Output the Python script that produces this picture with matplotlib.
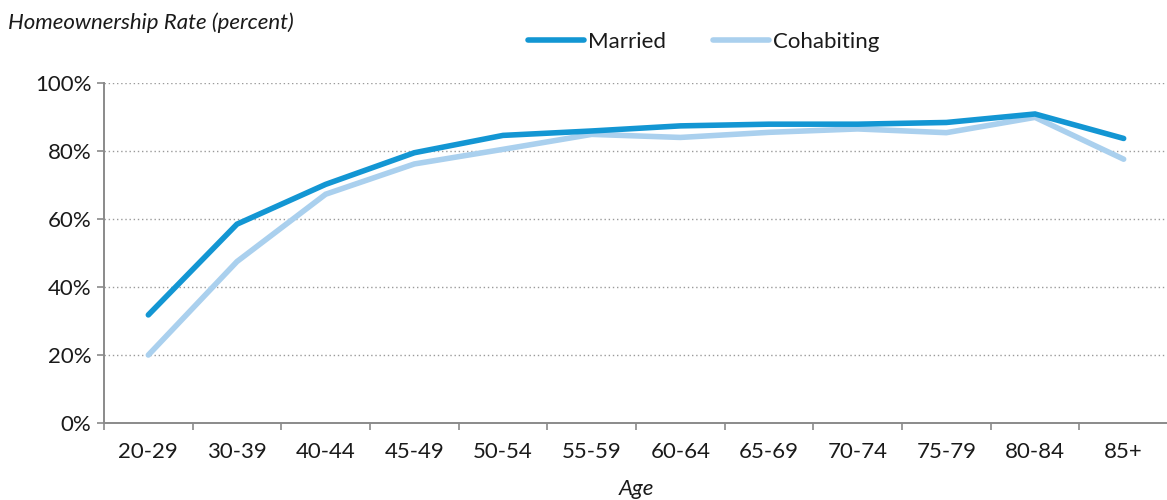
import matplotlib
matplotlib.use("Agg")
import matplotlib.pyplot as plt
from matplotlib.ticker import FixedLocator, PercentFormatter

categories = ["20-29", "30-39", "40-44", "45-49", "50-54", "55-59", "60-64",
              "65-69", "70-74", "75-79", "80-84", "85+"]
married = [31.7, 58.4, 70.1, 79.4, 84.5, 85.8, 87.3, 87.8, 87.8, 88.3, 90.8, 83.6]
cohabiting = [19.9, 47.4, 67.2, 76.1, 80.4, 84.8, 83.9, 85.4, 86.4, 85.3, 89.8, 77.5]

plt.rcParams['font.family'] = ['Lato', 'DejaVu Sans']

fig = plt.figure(figsize=(11.67, 5.0), dpi=100)
ax = fig.add_axes([104/1167, 1-422.7/500, (1168-104)/1167, (422.7-82.7)/500])

x = list(range(len(categories)))
c_m = "#1396d3"
c_c = "#aad0ee"
ax.plot(x, married, color=c_m, lw=4.0, solid_capstyle='round', solid_joinstyle='miter', label="Married", zorder=3)
ax.plot(x, cohabiting, color=c_c, lw=4.0, solid_capstyle='round', solid_joinstyle='miter', label="Cohabiting", zorder=2)

ax.set_xlim(-0.5, len(categories) - 0.5)
ax.set_ylim(0, 100)
ax.set_yticks([0, 20, 40, 60, 80, 100])
ax.yaxis.set_major_formatter(PercentFormatter(decimals=0))
ax.set_xticks(x)
ax.set_xticklabels(categories)
ax.xaxis.set_minor_locator(FixedLocator([i - 0.5 for i in range(len(categories) + 1)]))
ax.tick_params(axis='x', which='major', length=0, pad=14, labelsize=16, labelcolor='#1a1a1a')
ax.tick_params(axis='x', which='minor', length=5, width=1.2, color='#8a8a8a', direction='out')
ax.tick_params(axis='y', length=5, width=1.2, color='#8a8a8a', labelsize=16, labelcolor='#1a1a1a', pad=4)

for s in ['top', 'right']:
    ax.spines[s].set_visible(False)
for s in ['left', 'bottom']:
    ax.spines[s].set_color('#8a8a8a')
    ax.spines[s].set_linewidth(1.4)

for v in [20, 40, 60, 80, 100]:
    ax.axhline(v, color='#9a9a9a', lw=1.0, ls=(0, (1, 2)), zorder=1)

ax.set_xlabel("Age", style='italic', fontsize=16, labelpad=12, color='#1a1a1a')
fig.text(8/1167, 1-23/500, "Homeownership Rate (percent)", style='italic', fontsize=16,
         va='center', ha='left', color='#1a1a1a')

leg = fig.legend(loc='center', bbox_to_anchor=(704/1167, 1-42/500), ncol=2, frameon=False,
                 fontsize=16, handlelength=2.5, handletextpad=0.2, columnspacing=2.1)
for t in leg.get_texts():
    t.set_color('#1a1a1a')

fig.savefig("out.png", dpi=100)
